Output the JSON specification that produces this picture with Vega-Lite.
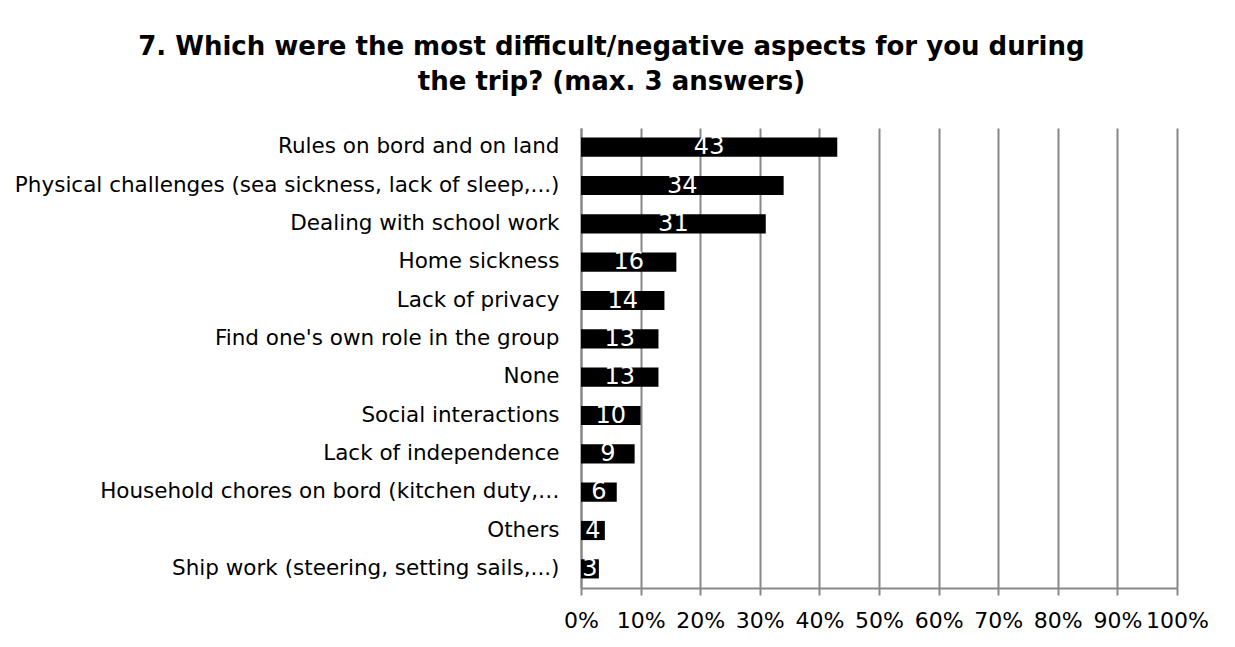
{
  "$schema": "https://vega.github.io/schema/vega-lite/v6.json",
  "width": 596,
  "height": 460,
  "padding": {"left": 14, "top": 34, "right": 25, "bottom": 10},
  "background": "white",
  "title": {
    "text": ["7. Which were the most difficult/negative aspects for you during", "the trip? (max. 3 answers)"],
    "font": "DejaVu Sans",
    "fontSize": 26,
    "fontWeight": "bold",
    "color": "black",
    "anchor": "middle",
    "frame": "bounds",
    "lineHeight": 35,
    "offset": 33
  },
  "data": {
    "values": [
      {"aspect": "Rules on bord and on land", "percent": 43},
      {"aspect": "Physical challenges (sea sickness, lack of sleep,...)", "percent": 34},
      {"aspect": "Dealing with school work", "percent": 31},
      {"aspect": "Home sickness", "percent": 16},
      {"aspect": "Lack of privacy", "percent": 14},
      {"aspect": "Find one's own role in the group", "percent": 13},
      {"aspect": "None", "percent": 13},
      {"aspect": "Social interactions", "percent": 10},
      {"aspect": "Lack of independence", "percent": 9},
      {"aspect": "Household chores on bord (kitchen duty,…", "percent": 6},
      {"aspect": "Others", "percent": 4},
      {"aspect": "Ship work (steering, setting sails,...)", "percent": 3}
    ]
  },
  "encoding": {
    "y": {
      "field": "aspect",
      "type": "nominal",
      "sort": null,
      "title": null,
      "scale": {"paddingInner": 0.5, "paddingOuter": 0.25},
      "axis": {
        "ticks": false,
        "domain": true,
        "domainColor": "#888888",
        "domainWidth": 2,
        "labelFont": "DejaVu Sans",
        "labelFontSize": 21.5,
        "labelColor": "black",
        "labelPadding": 22,
        "labelLimit": 700
      }
    }
  },
  "layer": [
    {
      "mark": {"type": "bar", "color": "black"},
      "encoding": {
        "x": {
          "field": "percent",
          "type": "quantitative",
          "scale": {"domain": [0, 100]},
          "title": null,
          "axis": {
            "values": [0, 10, 20, 30, 40, 50, 60, 70, 80, 90, 100],
            "labelExpr": "datum.value + '%'",
            "labelOverlap": false,
            "grid": true,
            "gridColor": "#888888",
            "gridWidth": 2,
            "domainColor": "#888888",
            "domainWidth": 2,
            "tickColor": "#888888",
            "tickWidth": 2,
            "tickSize": 7,
            "labelFont": "DejaVu Sans",
            "labelFontSize": 22,
            "labelColor": "black",
            "labelPadding": 15,
            "labelFlush": false
          }
        }
      }
    },
    {
      "mark": {"type": "text", "color": "white", "font": "DejaVu Sans", "fontSize": 24, "baseline": "middle", "align": "center"},
      "encoding": {
        "x": {
          "field": "percent",
          "type": "quantitative",
          "scale": {"domain": [0, 200]},
          "axis": null
        },
        "text": {"field": "percent", "type": "quantitative"}
      }
    }
  ],
  "resolve": {"scale": {"x": "independent"}},
  "config": {"view": {"stroke": null}}
}
